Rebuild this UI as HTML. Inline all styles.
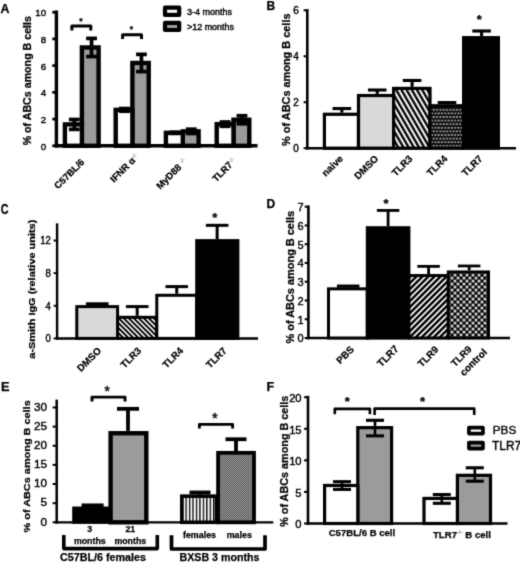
<!DOCTYPE html>
<html><head><meta charset="utf-8"><title>Figure</title>
<style>
html,body{margin:0;padding:0;background:#fff;}
svg{display:block;font-family:'Liberation Sans', sans-serif;fill:#000;}
</style></head>
<body>
<svg width="520" height="563" viewBox="0 0 520 563" style="font-family:'Liberation Sans',sans-serif">
<filter id="soft" x="0" y="0" width="520" height="563" filterUnits="userSpaceOnUse" color-interpolation-filters="sRGB"><feConvolveMatrix order="3" kernelMatrix="0.0196 0.1008 0.0196 0.1008 0.5184 0.1008 0.0196 0.1008 0.0196" edgeMode="duplicate" preserveAlpha="true"/></filter>
<g filter="url(#soft)">
<rect x="0" y="0" width="520" height="563" fill="#fff" stroke="none"/>
<defs>
<pattern id="pB3" width="4.5" height="4.5" patternUnits="userSpaceOnUse" patternTransform="rotate(-30)">
  <rect width="4.5" height="4.5" fill="#fff"/><rect width="2.4" height="4.5" fill="#000"/>
</pattern>
<pattern id="pB4" width="3.3" height="7.2" patternUnits="userSpaceOnUse">
  <rect width="3.3" height="7.2" fill="#0d0d0d"/><rect x="0.4" y="1.1" width="2.0" height="1.4" fill="#c4c4c4"/><rect x="2.05" y="4.7" width="2.0" height="1.4" fill="#c4c4c4"/><rect x="-1.25" y="4.7" width="2.0" height="1.4" fill="#c4c4c4"/>
</pattern>
<pattern id="pC3" width="3.55" height="3.55" patternUnits="userSpaceOnUse" patternTransform="rotate(-45)">
  <rect width="3.55" height="3.55" fill="#fff"/><rect width="1.85" height="3.55" fill="#000"/>
</pattern>
<pattern id="pD9" width="4.25" height="4.25" patternUnits="userSpaceOnUse" patternTransform="rotate(-45)">
  <rect width="4.25" height="4.25" fill="#fff"/><rect width="4.25" height="2.45" fill="#000"/>
</pattern>
<pattern id="pD9c" x="450.5" y="270.6" width="6" height="6" patternUnits="userSpaceOnUse">
  <rect width="6" height="6" fill="#000"/><circle cx="1.5" cy="1.5" r="1.42" fill="#fff"/><circle cx="4.5" cy="4.5" r="1.42" fill="#fff"/>
</pattern>
<pattern id="pEf" x="185.45" width="3.45" height="4" patternUnits="userSpaceOnUse">
  <rect width="3.45" height="4" fill="#fff"/><rect width="1.35" height="4" fill="#000"/>
</pattern>
<pattern id="pEm" width="2" height="2" patternUnits="userSpaceOnUse">
  <rect width="2" height="2" fill="#2e2e2e"/><rect width="1" height="1" fill="#c4c4c4"/><rect x="1" y="1" width="1" height="1" fill="#c4c4c4"/>
</pattern>
</defs>
<text x="0.60" y="12.90" font-size="12.4" text-anchor="start" font-weight="bold" stroke="#000" stroke-width="0.25" >A</text>
<line x1="56.40" y1="10.60" x2="56.40" y2="147.50" stroke="#000" stroke-width="3.4" stroke-linecap="butt"/>
<line x1="52.30" y1="145.80" x2="56.40" y2="145.80" stroke="#000" stroke-width="2.72" stroke-linecap="butt"/>
<text x="46.10" y="149.83" font-size="9.8" text-anchor="end" stroke="#000" stroke-width="0.4" >0</text>
<line x1="52.30" y1="119.08" x2="56.40" y2="119.08" stroke="#000" stroke-width="2.72" stroke-linecap="butt"/>
<text x="46.10" y="123.11" font-size="9.8" text-anchor="end" stroke="#000" stroke-width="0.4" >2</text>
<line x1="52.30" y1="92.36" x2="56.40" y2="92.36" stroke="#000" stroke-width="2.72" stroke-linecap="butt"/>
<text x="46.10" y="96.39" font-size="9.8" text-anchor="end" stroke="#000" stroke-width="0.4" >4</text>
<line x1="52.30" y1="65.64" x2="56.40" y2="65.64" stroke="#000" stroke-width="2.72" stroke-linecap="butt"/>
<text x="46.10" y="69.67" font-size="9.8" text-anchor="end" stroke="#000" stroke-width="0.4" >6</text>
<line x1="52.30" y1="38.92" x2="56.40" y2="38.92" stroke="#000" stroke-width="2.72" stroke-linecap="butt"/>
<text x="46.10" y="42.95" font-size="9.8" text-anchor="end" stroke="#000" stroke-width="0.4" >8</text>
<line x1="52.30" y1="12.20" x2="56.40" y2="12.20" stroke="#000" stroke-width="2.72" stroke-linecap="butt"/>
<text x="46.10" y="16.23" font-size="9.8" text-anchor="end" stroke="#000" stroke-width="0.4" >10</text>
<line x1="54.70" y1="145.80" x2="257.50" y2="145.80" stroke="#000" stroke-width="3.4" stroke-linecap="butt"/>
<text x="30.90" y="80.70" font-size="10.2" text-anchor="middle" font-weight="bold" stroke="#000" stroke-width="0.25" transform="rotate(-90 30.90 80.70)" textLength="129.3" lengthAdjust="spacingAndGlyphs" >% of ABCs among B cells</text>
<rect x="81.90" y="47.47" width="16.70" height="98.33" fill="#9b9b9b" stroke="#000" stroke-width="4.4"/>
<rect x="64.90" y="124.42" width="17.00" height="21.38" fill="#fff" stroke="#000" stroke-width="4.4"/>
<line x1="74.30" y1="119.48" x2="74.30" y2="129.37" stroke="#000" stroke-width="3.7" stroke-linecap="butt"/>
<line x1="68.90" y1="119.48" x2="79.70" y2="119.48" stroke="#000" stroke-width="3.7" stroke-linecap="butt"/>
<line x1="68.90" y1="129.37" x2="79.70" y2="129.37" stroke="#000" stroke-width="3.7" stroke-linecap="butt"/>
<line x1="91.55" y1="38.39" x2="91.55" y2="56.56" stroke="#000" stroke-width="3.7" stroke-linecap="butt"/>
<line x1="86.15" y1="38.39" x2="96.95" y2="38.39" stroke="#000" stroke-width="3.7" stroke-linecap="butt"/>
<line x1="86.15" y1="56.56" x2="96.95" y2="56.56" stroke="#000" stroke-width="3.7" stroke-linecap="butt"/>
<rect x="132.40" y="62.97" width="16.30" height="82.83" fill="#9b9b9b" stroke="#000" stroke-width="4.4"/>
<rect x="115.70" y="109.86" width="16.70" height="35.94" fill="#fff" stroke="#000" stroke-width="4.4"/>
<line x1="124.45" y1="108.53" x2="124.45" y2="111.20" stroke="#000" stroke-width="3.7" stroke-linecap="butt"/>
<line x1="119.05" y1="108.53" x2="129.85" y2="108.53" stroke="#000" stroke-width="3.7" stroke-linecap="butt"/>
<line x1="119.05" y1="111.20" x2="129.85" y2="111.20" stroke="#000" stroke-width="3.7" stroke-linecap="butt"/>
<line x1="141.45" y1="54.35" x2="141.45" y2="71.59" stroke="#000" stroke-width="3.7" stroke-linecap="butt"/>
<line x1="136.05" y1="54.35" x2="146.85" y2="54.35" stroke="#000" stroke-width="3.7" stroke-linecap="butt"/>
<line x1="136.05" y1="71.59" x2="146.85" y2="71.59" stroke="#000" stroke-width="3.7" stroke-linecap="butt"/>
<rect x="182.80" y="131.37" width="15.80" height="14.43" fill="#9b9b9b" stroke="#000" stroke-width="4.4"/>
<rect x="165.90" y="132.84" width="16.90" height="12.96" fill="#fff" stroke="#000" stroke-width="4.4"/>
<line x1="174.75" y1="132.31" x2="174.75" y2="133.38" stroke="#000" stroke-width="3.7" stroke-linecap="butt"/>
<line x1="169.35" y1="132.31" x2="180.15" y2="132.31" stroke="#000" stroke-width="3.7" stroke-linecap="butt"/>
<line x1="169.35" y1="133.38" x2="180.15" y2="133.38" stroke="#000" stroke-width="3.7" stroke-linecap="butt"/>
<line x1="191.30" y1="129.23" x2="191.30" y2="133.51" stroke="#000" stroke-width="3.7" stroke-linecap="butt"/>
<line x1="185.90" y1="129.23" x2="196.70" y2="129.23" stroke="#000" stroke-width="3.7" stroke-linecap="butt"/>
<line x1="185.90" y1="133.51" x2="196.70" y2="133.51" stroke="#000" stroke-width="3.7" stroke-linecap="butt"/>
<rect x="233.50" y="119.75" width="15.80" height="26.05" fill="#9b9b9b" stroke="#000" stroke-width="4.4"/>
<rect x="216.70" y="124.16" width="16.80" height="21.64" fill="#fff" stroke="#000" stroke-width="4.4"/>
<line x1="225.10" y1="122.02" x2="225.10" y2="126.29" stroke="#000" stroke-width="3.7" stroke-linecap="butt"/>
<line x1="219.70" y1="122.02" x2="230.50" y2="122.02" stroke="#000" stroke-width="3.7" stroke-linecap="butt"/>
<line x1="219.70" y1="126.29" x2="230.50" y2="126.29" stroke="#000" stroke-width="3.7" stroke-linecap="butt"/>
<line x1="242.00" y1="115.74" x2="242.00" y2="123.76" stroke="#000" stroke-width="3.7" stroke-linecap="butt"/>
<line x1="236.60" y1="115.74" x2="247.40" y2="115.74" stroke="#000" stroke-width="3.7" stroke-linecap="butt"/>
<line x1="236.60" y1="123.76" x2="247.40" y2="123.76" stroke="#000" stroke-width="3.7" stroke-linecap="butt"/>
<polyline points="71.90,30.40 71.90,26.00 90.80,26.00 90.80,30.40" fill="none" stroke="#000" stroke-width="3.0" stroke-linejoin="round"/>
<text x="80.80" y="23.70" font-size="8.5" text-anchor="middle" font-weight="bold" stroke="#000" stroke-width="0.25" >*</text>
<polyline points="122.60,39.10 122.60,34.80 141.50,34.80 141.50,39.10" fill="none" stroke="#000" stroke-width="3.0" stroke-linejoin="round"/>
<text x="131.30" y="32.30" font-size="8.5" text-anchor="middle" font-weight="bold" stroke="#000" stroke-width="0.25" >*</text>
<rect x="165.0" y="7.7" width="14.2" height="7.2" fill="#fff" stroke="#000" stroke-width="4.2" stroke-linejoin="round"/>
<rect x="165.0" y="22.8" width="14.2" height="7.2" fill="#9b9b9b" stroke="#000" stroke-width="4.2" stroke-linejoin="round"/>
<text x="187.00" y="15.20" font-size="9.2" text-anchor="start" stroke="#000" stroke-width="0.4" textLength="45" lengthAdjust="spacingAndGlyphs" >3-4 months</text>
<text x="187.00" y="30.00" font-size="9.2" text-anchor="start" stroke="#000" stroke-width="0.4" textLength="47" lengthAdjust="spacingAndGlyphs" >&gt;12 months</text>
<text x="85.00" y="162.70" font-size="9.5" text-anchor="end" font-weight="bold" stroke="#000" stroke-width="0.25" transform="rotate(-45 85.00 162.70)" >C57BL/6</text>
<text x="139.80" y="157.20" font-size="9.5" text-anchor="end" font-weight="bold" stroke="#000" stroke-width="0.25" transform="rotate(-45 139.80 157.20)" >IFNR &#945;<tspan font-size="6" dy="-3" font-weight="normal" stroke="none" fill="#444">-/-</tspan></text>
<text x="187.80" y="162.20" font-size="9.5" text-anchor="end" font-weight="bold" stroke="#000" stroke-width="0.25" transform="rotate(-45 187.80 162.20)" >MyD88 <tspan font-size="6" dy="-3" font-weight="normal" stroke="none" fill="#444">-/-</tspan></text>
<text x="237.00" y="161.60" font-size="9.5" text-anchor="end" font-weight="bold" stroke="#000" stroke-width="0.25" transform="rotate(-45 237.00 161.60)" >TLR7<tspan font-size="6" dy="-3" font-weight="normal" stroke="none" fill="#444">-/-</tspan></text>
<text x="266.50" y="10.20" font-size="12" text-anchor="start" font-weight="bold" stroke="#000" stroke-width="0.25" >B</text>
<line x1="307.30" y1="9.10" x2="307.30" y2="149.50" stroke="#000" stroke-width="2.6" stroke-linecap="butt"/>
<line x1="303.60" y1="148.20" x2="307.30" y2="148.20" stroke="#000" stroke-width="2.08" stroke-linecap="butt"/>
<text x="298.80" y="151.80" font-size="10" text-anchor="end" stroke="#000" stroke-width="0.4" >0</text>
<line x1="303.60" y1="102.24" x2="307.30" y2="102.24" stroke="#000" stroke-width="2.08" stroke-linecap="butt"/>
<text x="298.80" y="105.84" font-size="10" text-anchor="end" stroke="#000" stroke-width="0.4" >2</text>
<line x1="303.60" y1="56.28" x2="307.30" y2="56.28" stroke="#000" stroke-width="2.08" stroke-linecap="butt"/>
<text x="298.80" y="59.88" font-size="10" text-anchor="end" stroke="#000" stroke-width="0.4" >4</text>
<line x1="303.60" y1="10.32" x2="307.30" y2="10.32" stroke="#000" stroke-width="2.08" stroke-linecap="butt"/>
<text x="298.80" y="13.92" font-size="10" text-anchor="end" stroke="#000" stroke-width="0.4" >6</text>
<line x1="306.00" y1="148.20" x2="516.00" y2="148.20" stroke="#000" stroke-width="2.5" stroke-linecap="butt"/>
<text x="289.70" y="79.70" font-size="10.2" text-anchor="middle" font-weight="bold" stroke="#000" stroke-width="0.25" transform="rotate(-90 289.70 79.70)" textLength="132.4" lengthAdjust="spacingAndGlyphs" >% of ABCs among B cells</text>
<line x1="341.85" y1="108.54" x2="341.85" y2="112.67" stroke="#000" stroke-width="3.1" stroke-linecap="butt"/>
<line x1="332.55" y1="108.54" x2="351.15" y2="108.54" stroke="#000" stroke-width="3.1" stroke-linecap="butt"/>
<line x1="377.25" y1="90.01" x2="377.25" y2="93.92" stroke="#000" stroke-width="3.1" stroke-linecap="butt"/>
<line x1="367.95" y1="90.01" x2="386.55" y2="90.01" stroke="#000" stroke-width="3.1" stroke-linecap="butt"/>
<line x1="412.10" y1="80.45" x2="412.10" y2="86.80" stroke="#000" stroke-width="3.1" stroke-linecap="butt"/>
<line x1="402.80" y1="80.45" x2="421.40" y2="80.45" stroke="#000" stroke-width="3.1" stroke-linecap="butt"/>
<line x1="447.00" y1="102.54" x2="447.00" y2="104.15" stroke="#000" stroke-width="3.1" stroke-linecap="butt"/>
<line x1="437.70" y1="102.54" x2="456.30" y2="102.54" stroke="#000" stroke-width="3.1" stroke-linecap="butt"/>
<line x1="481.60" y1="31.00" x2="481.60" y2="36.06" stroke="#000" stroke-width="3.1" stroke-linecap="butt"/>
<line x1="472.30" y1="31.00" x2="490.90" y2="31.00" stroke="#000" stroke-width="3.1" stroke-linecap="butt"/>
<rect x="324.40" y="114.27" width="34.10" height="33.93" fill="#fff" stroke="#000" stroke-width="3.2"/>
<rect x="358.50" y="95.52" width="35.10" height="52.68" fill="#d9d9d9" stroke="#000" stroke-width="3.2"/>
<rect x="393.60" y="88.40" width="36.40" height="59.80" fill="url(#pB3)" stroke="#000" stroke-width="3.2"/>
<rect x="430.00" y="105.75" width="33.60" height="42.45" fill="url(#pB4)" stroke="#000" stroke-width="3.2"/>
<rect x="463.60" y="37.66" width="34.80" height="110.54" fill="#000" stroke="#000" stroke-width="3.2"/>
<text x="479.20" y="23.59" font-size="13" text-anchor="middle" font-weight="bold" stroke="#000" stroke-width="0.25" >*</text>
<text x="343.60" y="159.30" font-size="9.8" text-anchor="end" font-weight="bold" stroke="#000" stroke-width="0.25" transform="rotate(-45 343.60 159.30)" >naive</text>
<text x="379.00" y="159.30" font-size="9.8" text-anchor="end" font-weight="bold" stroke="#000" stroke-width="0.25" transform="rotate(-45 379.00 159.30)" >DMSO</text>
<text x="413.20" y="159.30" font-size="9.8" text-anchor="end" font-weight="bold" stroke="#000" stroke-width="0.25" transform="rotate(-45 413.20 159.30)" >TLR3</text>
<text x="448.10" y="159.30" font-size="9.8" text-anchor="end" font-weight="bold" stroke="#000" stroke-width="0.25" transform="rotate(-45 448.10 159.30)" >TLR4</text>
<text x="483.10" y="159.30" font-size="9.8" text-anchor="end" font-weight="bold" stroke="#000" stroke-width="0.25" transform="rotate(-45 483.10 159.30)" >TLR7</text>
<g transform="translate(0.8 214.4) scale(0.78 1)">
<text x="0.00" y="0.00" font-size="13.8" text-anchor="start" font-weight="bold" stroke="#000" stroke-width="0.25" >C</text>
</g>
<line x1="57.10" y1="223.40" x2="57.10" y2="339.60" stroke="#000" stroke-width="2.4" stroke-linecap="butt"/>
<line x1="53.60" y1="338.40" x2="57.10" y2="338.40" stroke="#000" stroke-width="1.92" stroke-linecap="butt"/>
<text x="50.90" y="342.14" font-size="10.4" text-anchor="end" stroke="#000" stroke-width="0.4" textLength="5.3" lengthAdjust="spacingAndGlyphs" >0</text>
<line x1="53.60" y1="305.77" x2="57.10" y2="305.77" stroke="#000" stroke-width="1.92" stroke-linecap="butt"/>
<text x="50.90" y="309.51" font-size="10.4" text-anchor="end" stroke="#000" stroke-width="0.4" textLength="5.3" lengthAdjust="spacingAndGlyphs" >4</text>
<line x1="53.60" y1="273.14" x2="57.10" y2="273.14" stroke="#000" stroke-width="1.92" stroke-linecap="butt"/>
<text x="50.90" y="276.88" font-size="10.4" text-anchor="end" stroke="#000" stroke-width="0.4" textLength="5.3" lengthAdjust="spacingAndGlyphs" >8</text>
<line x1="53.60" y1="240.50" x2="57.10" y2="240.50" stroke="#000" stroke-width="1.92" stroke-linecap="butt"/>
<text x="50.90" y="244.25" font-size="10.4" text-anchor="end" stroke="#000" stroke-width="0.4" textLength="10.6" lengthAdjust="spacingAndGlyphs" >12</text>
<line x1="55.90" y1="338.40" x2="258.00" y2="338.40" stroke="#000" stroke-width="2.5" stroke-linecap="butt"/>
<text x="34.80" y="289.20" font-size="9.4" text-anchor="middle" font-weight="bold" stroke="#000" stroke-width="0.25" transform="rotate(-90 34.80 289.20)" textLength="139" lengthAdjust="spacingAndGlyphs" >a-Smith IgG (relative units)</text>
<line x1="97.25" y1="303.97" x2="97.25" y2="305.12" stroke="#000" stroke-width="3.4" stroke-linecap="butt"/>
<line x1="85.95" y1="303.97" x2="108.55" y2="303.97" stroke="#000" stroke-width="3.4" stroke-linecap="butt"/>
<line x1="137.20" y1="306.58" x2="137.20" y2="315.80" stroke="#000" stroke-width="3.0" stroke-linecap="butt"/>
<line x1="125.90" y1="306.58" x2="148.50" y2="306.58" stroke="#000" stroke-width="3.0" stroke-linecap="butt"/>
<line x1="176.75" y1="286.60" x2="176.75" y2="293.78" stroke="#000" stroke-width="3.0" stroke-linecap="butt"/>
<line x1="165.45" y1="286.60" x2="188.05" y2="286.60" stroke="#000" stroke-width="3.0" stroke-linecap="butt"/>
<line x1="217.15" y1="225.33" x2="217.15" y2="239.12" stroke="#000" stroke-width="3.0" stroke-linecap="butt"/>
<line x1="205.85" y1="225.33" x2="228.45" y2="225.33" stroke="#000" stroke-width="3.0" stroke-linecap="butt"/>
<rect x="76.80" y="306.62" width="40.80" height="31.78" fill="#d9d9d9" stroke="#000" stroke-width="3.0"/>
<rect x="117.60" y="317.30" width="39.20" height="21.10" fill="url(#pC3)" stroke="#000" stroke-width="3.0"/>
<rect x="156.80" y="295.28" width="39.90" height="43.12" fill="#fff" stroke="#000" stroke-width="3.0"/>
<rect x="196.70" y="240.62" width="41.20" height="97.78" fill="#000" stroke="#000" stroke-width="3.0"/>
<text x="214.80" y="221.79" font-size="13" text-anchor="middle" font-weight="bold" stroke="#000" stroke-width="0.25" >*</text>
<text x="101.90" y="351.40" font-size="9.8" text-anchor="end" font-weight="bold" stroke="#000" stroke-width="0.25" transform="rotate(-45 101.90 351.40)" >DMSO</text>
<text x="141.90" y="351.40" font-size="9.8" text-anchor="end" font-weight="bold" stroke="#000" stroke-width="0.25" transform="rotate(-45 141.90 351.40)" >TLR3</text>
<text x="183.90" y="351.40" font-size="9.8" text-anchor="end" font-weight="bold" stroke="#000" stroke-width="0.25" transform="rotate(-45 183.90 351.40)" >TLR4</text>
<text x="227.40" y="351.40" font-size="9.8" text-anchor="end" font-weight="bold" stroke="#000" stroke-width="0.25" transform="rotate(-45 227.40 351.40)" >TLR7</text>
<text x="266.50" y="208.20" font-size="12" text-anchor="start" font-weight="bold" stroke="#000" stroke-width="0.25" >D</text>
<line x1="308.40" y1="205.50" x2="308.40" y2="339.30" stroke="#000" stroke-width="2.6" stroke-linecap="butt"/>
<line x1="304.70" y1="338.00" x2="308.40" y2="338.00" stroke="#000" stroke-width="2.08" stroke-linecap="butt"/>
<text x="303.60" y="342.36" font-size="11" text-anchor="end" stroke="#000" stroke-width="0.4" >0</text>
<line x1="304.70" y1="319.24" x2="308.40" y2="319.24" stroke="#000" stroke-width="2.08" stroke-linecap="butt"/>
<text x="303.60" y="323.60" font-size="11" text-anchor="end" stroke="#000" stroke-width="0.4" >1</text>
<line x1="304.70" y1="300.48" x2="308.40" y2="300.48" stroke="#000" stroke-width="2.08" stroke-linecap="butt"/>
<text x="303.60" y="304.84" font-size="11" text-anchor="end" stroke="#000" stroke-width="0.4" >2</text>
<line x1="304.70" y1="281.72" x2="308.40" y2="281.72" stroke="#000" stroke-width="2.08" stroke-linecap="butt"/>
<text x="303.60" y="286.08" font-size="11" text-anchor="end" stroke="#000" stroke-width="0.4" >3</text>
<line x1="304.70" y1="262.96" x2="308.40" y2="262.96" stroke="#000" stroke-width="2.08" stroke-linecap="butt"/>
<text x="303.60" y="267.32" font-size="11" text-anchor="end" stroke="#000" stroke-width="0.4" >4</text>
<line x1="304.70" y1="244.20" x2="308.40" y2="244.20" stroke="#000" stroke-width="2.08" stroke-linecap="butt"/>
<text x="303.60" y="248.56" font-size="11" text-anchor="end" stroke="#000" stroke-width="0.4" >5</text>
<line x1="304.70" y1="225.44" x2="308.40" y2="225.44" stroke="#000" stroke-width="2.08" stroke-linecap="butt"/>
<text x="303.60" y="229.80" font-size="11" text-anchor="end" stroke="#000" stroke-width="0.4" >6</text>
<line x1="304.70" y1="206.68" x2="308.40" y2="206.68" stroke="#000" stroke-width="2.08" stroke-linecap="butt"/>
<text x="303.60" y="211.04" font-size="11" text-anchor="end" stroke="#000" stroke-width="0.4" >7</text>
<line x1="307.10" y1="338.00" x2="510.00" y2="338.00" stroke="#000" stroke-width="2.6" stroke-linecap="butt"/>
<text x="294.00" y="277.20" font-size="10.2" text-anchor="middle" font-weight="bold" stroke="#000" stroke-width="0.25" transform="rotate(-90 294.00 277.20)" textLength="132.6" lengthAdjust="spacingAndGlyphs" >% of ABCs among B cells</text>
<line x1="348.15" y1="286.13" x2="348.15" y2="287.35" stroke="#000" stroke-width="3.2" stroke-linecap="butt"/>
<line x1="336.90" y1="286.13" x2="359.40" y2="286.13" stroke="#000" stroke-width="3.2" stroke-linecap="butt"/>
<line x1="388.10" y1="210.43" x2="388.10" y2="226.19" stroke="#000" stroke-width="2.8" stroke-linecap="butt"/>
<line x1="376.85" y1="210.43" x2="399.35" y2="210.43" stroke="#000" stroke-width="2.8" stroke-linecap="butt"/>
<line x1="428.60" y1="266.34" x2="428.60" y2="274.03" stroke="#000" stroke-width="2.8" stroke-linecap="butt"/>
<line x1="417.35" y1="266.34" x2="439.85" y2="266.34" stroke="#000" stroke-width="2.8" stroke-linecap="butt"/>
<line x1="469.15" y1="265.96" x2="469.15" y2="270.46" stroke="#000" stroke-width="2.8" stroke-linecap="butt"/>
<line x1="457.90" y1="265.96" x2="480.40" y2="265.96" stroke="#000" stroke-width="2.8" stroke-linecap="butt"/>
<rect x="328.50" y="288.85" width="38.80" height="49.15" fill="#fff" stroke="#000" stroke-width="3.0"/>
<rect x="367.30" y="227.69" width="41.60" height="110.31" fill="#000" stroke="#000" stroke-width="3.0"/>
<rect x="408.90" y="275.53" width="39.40" height="62.47" fill="url(#pD9)" stroke="#000" stroke-width="3.0"/>
<rect x="448.30" y="271.96" width="40.20" height="66.04" fill="url(#pD9c)" stroke="#000" stroke-width="3.0"/>
<text x="386.00" y="208.19" font-size="13" text-anchor="middle" font-weight="bold" stroke="#000" stroke-width="0.25" >*</text>
<text x="354.60" y="350.20" font-size="9.8" text-anchor="end" font-weight="bold" stroke="#000" stroke-width="0.25" transform="rotate(-45 354.60 350.20)" >PBS</text>
<text x="399.30" y="349.60" font-size="10.2" text-anchor="end" font-weight="bold" stroke="#000" stroke-width="0.25" transform="rotate(-45 399.30 349.60)" >TLR7</text>
<text x="439.20" y="350.20" font-size="9.9" text-anchor="end" font-weight="bold" stroke="#000" stroke-width="0.25" transform="rotate(-45 439.20 350.20)" >TLR9</text>
<text x="472.40" y="350.00" font-size="9.8" text-anchor="end" font-weight="bold" stroke="#000" stroke-width="0.25" transform="rotate(-45 472.40 350.00)" >TLR9</text>
<text x="487.60" y="352.80" font-size="9.9" text-anchor="end" font-weight="bold" stroke="#000" stroke-width="0.25" transform="rotate(-45 487.60 352.80)" >control</text>
<text x="1.00" y="390.60" font-size="12.8" text-anchor="start" font-weight="bold" stroke="#000" stroke-width="0.25" >E</text>
<line x1="56.70" y1="399.60" x2="56.70" y2="523.55" stroke="#000" stroke-width="2.5" stroke-linecap="butt"/>
<line x1="52.65" y1="522.30" x2="56.70" y2="522.30" stroke="#000" stroke-width="2.0" stroke-linecap="butt"/>
<text x="47.10" y="525.51" font-size="11.7" text-anchor="end" stroke="#000" stroke-width="0.4" >0</text>
<line x1="52.65" y1="503.16" x2="56.70" y2="503.16" stroke="#000" stroke-width="2.0" stroke-linecap="butt"/>
<text x="47.10" y="506.38" font-size="11.7" text-anchor="end" stroke="#000" stroke-width="0.4" >5</text>
<line x1="52.65" y1="484.03" x2="56.70" y2="484.03" stroke="#000" stroke-width="2.0" stroke-linecap="butt"/>
<text x="47.10" y="487.24" font-size="11.7" text-anchor="end" stroke="#000" stroke-width="0.4" >10</text>
<line x1="52.65" y1="464.89" x2="56.70" y2="464.89" stroke="#000" stroke-width="2.0" stroke-linecap="butt"/>
<text x="47.10" y="468.11" font-size="11.7" text-anchor="end" stroke="#000" stroke-width="0.4" >15</text>
<line x1="52.65" y1="445.76" x2="56.70" y2="445.76" stroke="#000" stroke-width="2.0" stroke-linecap="butt"/>
<text x="47.10" y="448.97" font-size="11.7" text-anchor="end" stroke="#000" stroke-width="0.4" >20</text>
<line x1="52.65" y1="426.62" x2="56.70" y2="426.62" stroke="#000" stroke-width="2.0" stroke-linecap="butt"/>
<text x="47.10" y="429.84" font-size="11.7" text-anchor="end" stroke="#000" stroke-width="0.4" >25</text>
<line x1="52.65" y1="407.49" x2="56.70" y2="407.49" stroke="#000" stroke-width="2.0" stroke-linecap="butt"/>
<text x="47.10" y="410.70" font-size="11.7" text-anchor="end" stroke="#000" stroke-width="0.4" >30</text>
<line x1="55.40" y1="522.30" x2="273.30" y2="522.30" stroke="#000" stroke-width="2.3" stroke-linecap="butt"/>
<text x="29.80" y="466.40" font-size="9.8" text-anchor="middle" font-weight="bold" stroke="#000" stroke-width="0.25" transform="rotate(-90 29.80 466.40)" textLength="132.2" lengthAdjust="spacingAndGlyphs" >% of ABCs among B cells</text>
<line x1="92.60" y1="505.27" x2="92.60" y2="506.99" stroke="#000" stroke-width="3.6" stroke-linecap="butt"/>
<line x1="81.60" y1="505.27" x2="103.60" y2="505.27" stroke="#000" stroke-width="3.6" stroke-linecap="butt"/>
<line x1="128.00" y1="408.83" x2="128.00" y2="430.83" stroke="#000" stroke-width="3.8" stroke-linecap="butt"/>
<line x1="117.00" y1="408.83" x2="139.00" y2="408.83" stroke="#000" stroke-width="3.8" stroke-linecap="butt"/>
<rect x="73.70" y="508.03" width="35.00" height="14.27" fill="#000" stroke="#000" stroke-width="3.0"/>
<rect x="110.60" y="433.23" width="35.70" height="89.07" fill="#9b9b9b" stroke="#000" stroke-width="4.4"/>
<polyline points="92.00,401.60 92.00,397.10 125.00,397.10 125.00,401.60" fill="none" stroke="#000" stroke-width="2.9" stroke-linejoin="round"/>
<text x="107.20" y="396.35" font-size="15" text-anchor="middle" stroke="#000" stroke-width="0.4" >*</text>
<line x1="200.00" y1="492.49" x2="200.00" y2="495.51" stroke="#000" stroke-width="3.8" stroke-linecap="butt"/>
<line x1="189.50" y1="492.49" x2="210.50" y2="492.49" stroke="#000" stroke-width="3.8" stroke-linecap="butt"/>
<line x1="236.00" y1="439.25" x2="236.00" y2="451.12" stroke="#000" stroke-width="3.8" stroke-linecap="butt"/>
<line x1="225.50" y1="439.25" x2="246.50" y2="439.25" stroke="#000" stroke-width="3.8" stroke-linecap="butt"/>
<rect x="181.80" y="496.16" width="34.80" height="26.14" fill="url(#pEf)" stroke="#000" stroke-width="3.6"/>
<rect x="218.10" y="452.83" width="35.90" height="69.47" fill="url(#pEm)" stroke="#000" stroke-width="3.8"/>
<polyline points="199.40,428.50 199.40,424.40 232.60,424.40 232.60,428.50" fill="none" stroke="#000" stroke-width="2.9" stroke-linejoin="round"/>
<text x="214.80" y="423.35" font-size="15" text-anchor="middle" stroke="#000" stroke-width="0.4" >*</text>
<text x="89.80" y="532.00" font-size="8.8" text-anchor="middle" font-weight="bold" stroke="#000" stroke-width="0.25" >3</text>
<text x="89.80" y="543.50" font-size="8.8" text-anchor="middle" font-weight="bold" stroke="#000" stroke-width="0.25" >months</text>
<text x="130.30" y="532.00" font-size="8.8" text-anchor="middle" font-weight="bold" stroke="#000" stroke-width="0.25" >21</text>
<text x="130.30" y="543.50" font-size="8.8" text-anchor="middle" font-weight="bold" stroke="#000" stroke-width="0.25" >months</text>
<text x="199.50" y="538.40" font-size="8.9" text-anchor="middle" font-weight="bold" stroke="#000" stroke-width="0.25" >females</text>
<text x="239.30" y="538.40" font-size="8.9" text-anchor="middle" font-weight="bold" stroke="#000" stroke-width="0.25" >males</text>
<polyline points="63.8,535 63.8,548.6 157.3,548.6 157.3,535" fill="none" stroke="#000" stroke-width="3.6" stroke-linejoin="round"/>
<polyline points="171.5,535.3 171.5,549 265,549 265,535.3" fill="none" stroke="#000" stroke-width="3.7" stroke-linejoin="round"/>
<text x="60.00" y="561.40" font-size="10.5" text-anchor="start" font-weight="bold" stroke="#000" stroke-width="0.25" textLength="86" lengthAdjust="spacingAndGlyphs" >C57BL/6 females</text>
<text x="179.50" y="561.00" font-size="10.5" text-anchor="start" font-weight="bold" stroke="#000" stroke-width="0.25" textLength="80" lengthAdjust="spacingAndGlyphs" >BXSB 3 months</text>
<text x="266.60" y="390.80" font-size="12.6" text-anchor="start" font-weight="bold" stroke="#000" stroke-width="0.25" >F</text>
<line x1="308.00" y1="395.80" x2="308.00" y2="524.80" stroke="#000" stroke-width="2.6" stroke-linecap="butt"/>
<line x1="304.10" y1="523.50" x2="308.00" y2="523.50" stroke="#000" stroke-width="2.08" stroke-linecap="butt"/>
<text x="301.60" y="528.33" font-size="11.2" text-anchor="end" stroke="#000" stroke-width="0.4" >0</text>
<line x1="304.10" y1="491.93" x2="308.00" y2="491.93" stroke="#000" stroke-width="2.08" stroke-linecap="butt"/>
<text x="301.60" y="496.76" font-size="11.2" text-anchor="end" stroke="#000" stroke-width="0.4" >5</text>
<line x1="304.10" y1="460.35" x2="308.00" y2="460.35" stroke="#000" stroke-width="2.08" stroke-linecap="butt"/>
<text x="301.60" y="465.18" font-size="11.2" text-anchor="end" stroke="#000" stroke-width="0.4" >10</text>
<line x1="304.10" y1="428.77" x2="308.00" y2="428.77" stroke="#000" stroke-width="2.08" stroke-linecap="butt"/>
<text x="301.60" y="433.61" font-size="11.2" text-anchor="end" stroke="#000" stroke-width="0.4" >15</text>
<line x1="304.10" y1="397.20" x2="308.00" y2="397.20" stroke="#000" stroke-width="2.08" stroke-linecap="butt"/>
<text x="301.60" y="402.03" font-size="11.2" text-anchor="end" stroke="#000" stroke-width="0.4" >20</text>
<line x1="306.70" y1="523.50" x2="507.50" y2="523.50" stroke="#000" stroke-width="2.6" stroke-linecap="butt"/>
<text x="288.00" y="461.20" font-size="10.2" text-anchor="middle" font-weight="bold" stroke="#000" stroke-width="0.25" transform="rotate(-90 288.00 461.20)" textLength="131.2" lengthAdjust="spacingAndGlyphs" >% of ABCs among B cells</text>
<rect x="357.80" y="427.64" width="33.80" height="95.86" fill="#9b9b9b" stroke="#000" stroke-width="3.2"/>
<rect x="324.60" y="485.48" width="33.20" height="38.02" fill="#fff" stroke="#000" stroke-width="3.2"/>
<line x1="342.00" y1="481.69" x2="342.00" y2="489.40" stroke="#000" stroke-width="2.6" stroke-linecap="butt"/>
<line x1="375.00" y1="420.31" x2="375.00" y2="435.85" stroke="#000" stroke-width="2.6" stroke-linecap="butt"/>
<line x1="333.00" y1="481.69" x2="351.00" y2="481.69" stroke="#000" stroke-width="3.1" stroke-linecap="butt"/>
<line x1="333.00" y1="489.40" x2="351.00" y2="489.40" stroke="#000" stroke-width="3.1" stroke-linecap="butt"/>
<line x1="366.00" y1="420.31" x2="384.00" y2="420.31" stroke="#000" stroke-width="3.1" stroke-linecap="butt"/>
<line x1="366.00" y1="435.85" x2="384.00" y2="435.85" stroke="#000" stroke-width="3.1" stroke-linecap="butt"/>
<rect x="457.40" y="475.32" width="33.10" height="48.18" fill="#9b9b9b" stroke="#000" stroke-width="3.2"/>
<rect x="424.00" y="498.43" width="33.40" height="25.07" fill="#fff" stroke="#000" stroke-width="3.2"/>
<line x1="441.80" y1="494.58" x2="441.80" y2="503.29" stroke="#000" stroke-width="2.6" stroke-linecap="butt"/>
<line x1="474.80" y1="467.80" x2="474.80" y2="481.19" stroke="#000" stroke-width="2.6" stroke-linecap="butt"/>
<line x1="432.80" y1="494.58" x2="450.80" y2="494.58" stroke="#000" stroke-width="3.1" stroke-linecap="butt"/>
<line x1="432.80" y1="503.29" x2="450.80" y2="503.29" stroke="#000" stroke-width="3.1" stroke-linecap="butt"/>
<line x1="465.80" y1="467.80" x2="483.80" y2="467.80" stroke="#000" stroke-width="3.1" stroke-linecap="butt"/>
<line x1="465.80" y1="481.19" x2="483.80" y2="481.19" stroke="#000" stroke-width="3.1" stroke-linecap="butt"/>
<polyline points="334.80,414.20 334.80,408.90 369.90,408.90 369.90,414.20" fill="none" stroke="#000" stroke-width="2.6" stroke-linejoin="round"/>
<text x="347.20" y="406.39" font-size="13" text-anchor="middle" font-weight="bold" stroke="#000" stroke-width="0.25" >*</text>
<polyline points="374.60,415.00 374.60,408.60 474.20,408.60 474.20,415.00" fill="none" stroke="#000" stroke-width="2.6" stroke-linejoin="round"/>
<text x="422.50" y="406.39" font-size="13" text-anchor="middle" font-weight="bold" stroke="#000" stroke-width="0.25" >*</text>
<rect x="468.9" y="427.6" width="14.1" height="6.0" fill="#fff" stroke="#000" stroke-width="3.6" stroke-linejoin="round"/>
<rect x="468.9" y="442.6" width="14.1" height="6.0" fill="#9b9b9b" stroke="#000" stroke-width="3.6" stroke-linejoin="round"/>
<text x="492.80" y="434.40" font-size="11.7" text-anchor="start" stroke="#000" stroke-width="0.4" >PBS</text>
<text x="492.00" y="449.60" font-size="11.9" text-anchor="start" stroke="#000" stroke-width="0.4" >TLR7</text>
<text x="328.70" y="536.40" font-size="9.8" text-anchor="start" font-weight="bold" stroke="#000" stroke-width="0.25" textLength="66.5" lengthAdjust="spacingAndGlyphs" >C57BL/6 B cell</text>
<text x="433.00" y="537.80" font-size="9.6" text-anchor="start" font-weight="bold" stroke="#000" stroke-width="0.25" >TLR7<tspan font-size="6" dy="-3.4" font-weight="normal" stroke="none" fill="#333">-/-</tspan><tspan dy="3.4"> B cell</tspan></text>
</g>
</svg>
</body></html>
